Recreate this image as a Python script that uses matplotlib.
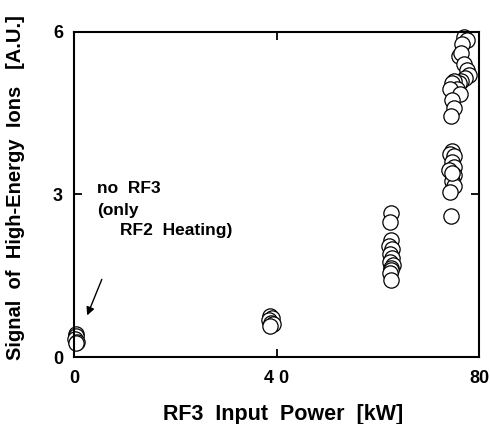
import matplotlib
matplotlib.use("Agg")
import matplotlib.pyplot as plt

plt.rcParams['font.family'] = ['Liberation Sans', 'DejaVu Sans']
plt.rcParams['font.weight'] = 'bold'

# RF3 input power [kW] and signal [A.U.]
p0 = [0.3, 0.4, 0.2, 0.5, 0.3]
s0 = [0.42, 0.38, 0.33, 0.28, 0.25]

p40 = [38.7, 39.0, 38.5, 38.8, 39.2, 38.6]
s40 = [0.76, 0.72, 0.68, 0.63, 0.60, 0.57]

p62 = [62.5, 62.3, 62.6, 62.2, 62.8, 62.4, 62.7, 62.3, 62.9, 62.5, 62.6, 62.4, 62.5]
s62 = [2.65, 2.50, 2.15, 2.05, 2.00, 1.90, 1.82, 1.75, 1.70, 1.65, 1.60, 1.55, 1.42]

p75 = [77.0, 77.5, 76.6, 76.0, 76.5, 77.0, 77.6, 78.0, 77.2, 76.5, 76.0, 75.0,
       74.6, 75.6, 74.2, 76.2, 74.6, 75.1, 74.5,
       74.6, 74.2, 75.0, 74.6, 75.1, 74.1, 75.0, 74.6, 75.1, 74.2, 74.6, 74.4]
s75 = [5.90, 5.85, 5.78, 5.55, 5.60, 5.40, 5.30, 5.20, 5.15, 5.10, 5.05, 5.10,
       5.05, 4.95, 4.95, 4.85, 4.75, 4.60, 4.45,
       3.80, 3.75, 3.70, 3.60, 3.50, 3.45, 3.35, 3.25, 3.15, 3.05, 3.40, 2.60]

power = p0 + p40 + p62 + p75
signal = s0 + s40 + s62 + s75

xticks = [0, 40, 80]
xticklabels = ['0', '4 0', '80']
yticks = [0, 3, 6]

fig = plt.figure(figsize=(4.9, 4.24), dpi=100)
ax = fig.add_axes([0.151, 0.158, 0.827, 0.767])

ax.plot(power, signal, 'o', markersize=11, markerfacecolor='white',
        markeredgecolor='black', markeredgewidth=0.9, linestyle='none', clip_on=False)

ax.set_xlim(0, 80)
ax.set_ylim(0, 6)
ax.set_xticks(xticks)
ax.set_yticks(yticks)
ax.set_xticklabels(xticklabels, fontsize=13, fontweight='bold')
ax.set_yticklabels([str(t) for t in yticks], fontsize=13, fontweight='bold')
ax.tick_params(direction='in', length=6, width=1.3, top=True, right=True)
ax.tick_params(axis='x', pad=9)
ax.tick_params(axis='y', pad=8)
for s in ax.spines.values():
    s.set_linewidth(1.5)

ax.set_xlabel('RF3  Input  Power  [kW]', fontsize=15.5, fontweight='bold')
ax.xaxis.set_label_coords(0.515, -0.143)
ax.set_ylabel('Signal  of  High-Energy  Ions   [A.U.]', fontsize=14.5, fontweight='bold')
ax.yaxis.set_label_coords(-0.12, 0.52)

ax.text(4.5, 3.1, 'no  RF3', fontsize=12.5, fontweight='bold', va='center', ha='left')
ax.text(4.5, 2.71, '(only', fontsize=12.5, fontweight='bold', va='center', ha='left')
ax.text(9.0, 2.33, 'RF2  Heating)', fontsize=12.5, fontweight='bold', va='center', ha='left')

ax.annotate('', xy=(2.4, 0.72), xytext=(5.7, 1.48),
            arrowprops=dict(arrowstyle='-|>', color='black', lw=1.0, mutation_scale=12))

fig.savefig('out.png', dpi=100)
